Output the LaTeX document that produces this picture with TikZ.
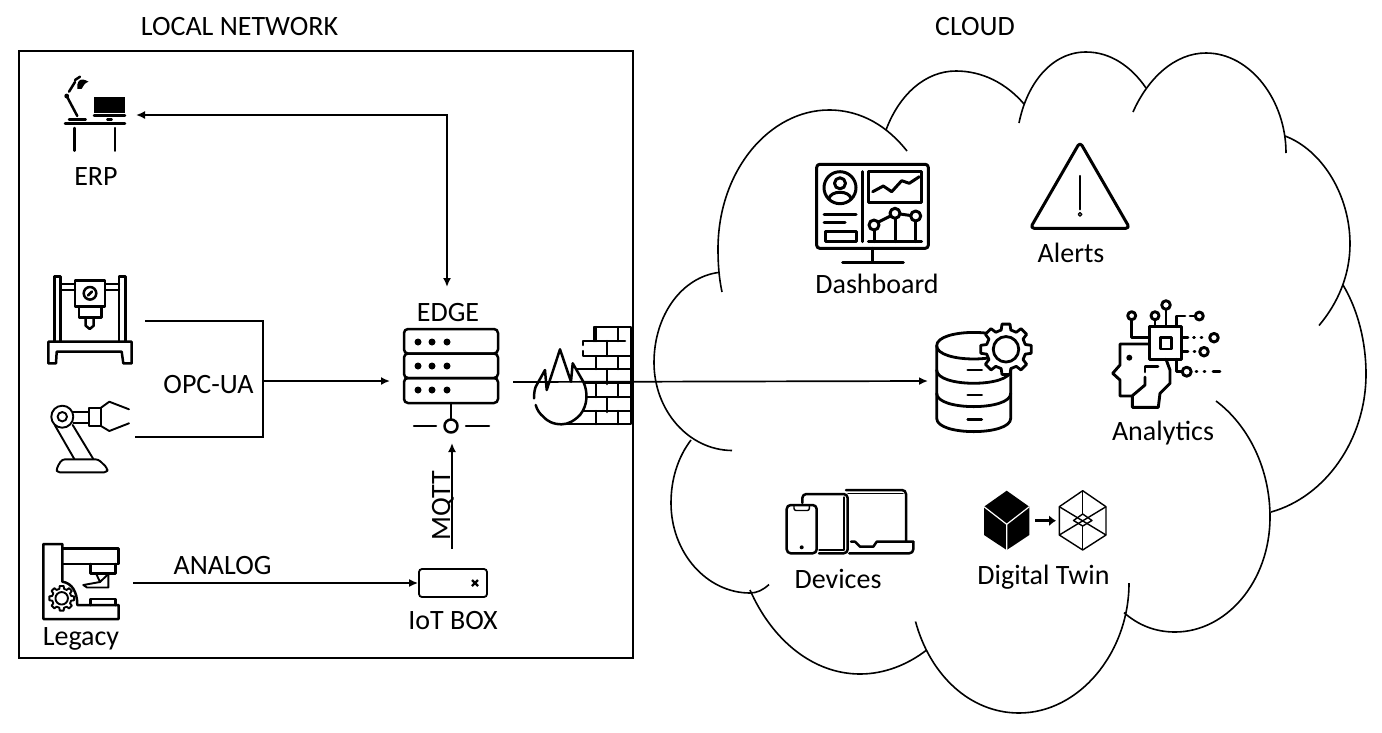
\documentclass[tikz,border=0pt]{standalone}
\usepackage{fontspec}
\setmainfont{Carlito}
\usetikzlibrary{arrows.meta}
\tikzset{
  lbl/.style={anchor=base,inner sep=0pt,outer sep=0pt,font=\fontsize{28}{30}\selectfont},
  boxline/.style={line width=2pt},
  conn/.style={line width=1.7pt,line join=miter},
  arrowconn/.style={conn,-{Latex[length=9pt,width=8pt]}},
  bothconn/.style={conn,{Latex[length=9pt,width=8pt]}-{Latex[length=9pt,width=8pt]}},
  cloudline/.style={line width=1.6pt},
  iconline/.style={line width=2.5pt,line join=round,line cap=round},
  thinicon/.style={line width=1.9pt,line join=round,line cap=round},
  iotbox/.style={draw,line width=1.8pt,rounded corners=3pt,inner sep=0pt,minimum width=68pt,minimum height=28pt},
  gearicon/.pic={
    \path[pic actions,fill=white] (-14:0.78) \foreach \a in {0,45,...,315}{
      -- (\a-14:0.78) -- (\a-9:1) -- (\a+9:1) -- (\a+14:0.78)} -- cycle;
    \path[pic actions,fill=white] (0,0) circle[radius=0.5];
  }
}
\begin{document}
\begin{tikzpicture}[x=1pt,y=-1pt]
\path[use as bounding box,fill=white] (0,0) rectangle (1382,732);
\draw[boxline] (19,51) rectangle (633,658);
\node[lbl] (localtitle) at (239.5,35) {LOCAL NETWORK};
\node[lbl] (cloudtitle) at (975,35) {CLOUD};

\begin{scope}[cloudline]
\draw (722,292) .. controls (719,278) and (718,264) .. (718,249) .. controls (718,170) and (770,110) .. (829,110) .. controls (862,110) and (888,127) .. (907,151);
\draw (886,130) .. controls (899,95) and (925,71) .. (956,71) .. controls (982,71) and (1006,83) .. (1024,104);
\draw (1019,123) .. controls (1027,83) and (1052,52) .. (1086,52) .. controls (1110,52) and (1131,66) .. (1146,88);
\draw (1133,112) .. controls (1148,78) and (1175,53) .. (1206,53) .. controls (1250,53) and (1286,100) .. (1286,153);
\draw (1285,136) .. controls (1322,150) and (1350,195) .. (1350,244) .. controls (1350,275) and (1338,303) .. (1319,325.5);
\draw (1343,285) .. controls (1358,310) and (1366,342) .. (1366,374) .. controls (1366,440) and (1325,497) .. (1271,512);
\draw (1216,401) .. controls (1248,425) and (1270,468) .. (1270,517) .. controls (1270,582) and (1226,632) .. (1175,632) .. controls (1155,632) and (1138,625) .. (1124,612.6);
\draw (1129,583) .. controls (1129,653) and (1079,713) .. (1019,713) .. controls (970,713) and (930,675) .. (915.5,621.5);
\draw (926,650.5) .. controls (907,665) and (884,674) .. (860,674) .. controls (813,674) and (772,640) .. (750,590);
\draw (769,584.5) .. controls (763,590) and (757,593) .. (750,593) .. controls (707,593) and (671,553) .. (671,503) .. controls (671,479) and (678,457) .. (691,440);
\draw (732,450.5) .. controls (688,450) and (654,410) .. (654,362.6) .. controls (654,315) and (682,277) .. (719,272.4);
\end{scope}

\begin{scope}[iconline]
\draw (65,123.3) -- (125,123.3);
\draw (74.3,128) -- (74.3,150.7);
\draw (115,128) -- (115,150.7);
\draw (69,119.3) -- (85.7,119.3);
\draw (66.7,96) -- (77.3,116);
\draw (69,91.7) -- (75,82);
\draw (75,80) -- (80,76.7);
\fill (66.7,96) circle[radius=2.4];
\fill (77.3,88.8) .. controls (76.5,83) and (79,79) .. (83,79.5) .. controls (85,80) and (87,80.5) .. (88.5,81.7) .. controls (85,83) and (83,85.5) .. (81.7,88.8) -- cycle;
\fill (94,97.3) rectangle (125,112.7);
\draw (94,115.3) -- (125,115.3);
\draw (107.3,119.3) -- (111.7,119.3);
\end{scope}
\node[lbl] (erp) at (96,185) {ERP};

\begin{scope}[iconline]
\draw (54.3,341.7) -- (54.3,276.7) -- (60.7,276.7) -- (60.7,341.7);
\draw (119,341.7) -- (119,276.7) -- (125.7,276.7) -- (125.7,341.7);
\draw (60.7,284) -- (75,284) (60.7,290) -- (75,290);
\draw (105,284) -- (119,284) (105,290) -- (119,290);
\draw (75,280.7) rectangle (105,306.7);
\draw (90,293.3) circle[radius=6.3];
\draw (88,295.5) -- (92,291.5);
\draw (79,306.7) rectangle (101.7,317.3);
\draw (85.7,317.3) -- (85.7,325.7) -- (89.7,329) -- (93.7,325.7) -- (93.7,317.3);
\draw (48.3,363.3) -- (48.3,341.7) -- (131.7,341.7) -- (131.7,363.3) -- (123.3,363.3) -- (121.7,351.7) -- (56.7,351.7) -- (56,363.3) -- cycle;
\end{scope}

\begin{scope}[thinicon]
\draw (62.3,416.7) circle[radius=11];
\draw (62.3,416.7) circle[radius=4.7];
\draw (73.3,411.7) -- (89,411.7) (73.3,423.3) -- (89,423.3);
\draw (89,407.7) rectangle (101,426);
\draw (101,407.7) -- (109.3,401.7) -- (129,409.3);
\draw (101,426) -- (109.3,431) -- (129,423.3);
\draw (55,425.5) -- (74.3,459);
\draw (72.7,425) -- (93.3,459);
\draw[rounded corners=3pt] (56.7,472.3) -- (56.7,468) -- (62,459.3) -- (98.3,459.3) -- (107.3,468) -- (107.3,472.3) -- cycle;
\end{scope}

\begin{scope}[iconline]
\draw (62.3,581.7) -- (62.3,544) -- (43.3,544) -- (43.3,619) -- (118.7,619) -- (118.7,605) -- (77.3,605) .. controls (77.3,592) and (72,583) .. (62.3,581.7);
\draw (62.3,548.3) -- (118.7,548.3) -- (118.7,564) -- (62.3,564);
\draw (90.7,564) -- (90.7,573.3) -- (115.7,573.3) -- (115.7,564);
\draw[thinicon] (96,573.3) -- (100,582) -- (108.3,574);
\draw[thinicon] (108.3,573.3) -- (108.3,587.5) -- (87,587.5) -- (83.3,585) -- (100,582);
\draw (90.7,605) -- (90.7,599) -- (115.7,599) -- (115.7,605);
\pic[thinicon,draw,scale=12.5] at (61.7,598.3) {gearicon};
\end{scope}
\node[lbl] (legacy) at (81,645) {Legacy};

\begin{scope}[iconline]
\draw[rounded corners=4pt] (404,329) rectangle (498,353.5);
\draw[rounded corners=4pt] (404,353.5) rectangle (498,378);
\draw[rounded corners=4pt] (404,378) rectangle (498,403);
\foreach \rowy in {342,366,390}
  \foreach \dotx in {418,432,447}
    \fill (\dotx,\rowy) circle[radius=3.5];
\draw (451,403) -- (451,419);
\draw (451,426) circle[radius=6.5];
\draw (414,426) -- (436,426);
\draw (466,426) -- (489,426);
\end{scope}
\node[lbl] (edge) at (448,321) {EDGE};

\begin{scope}[iconline]
\draw (594,341) -- (594,327) -- (631,327) -- (631,424) -- (561.7,424);
\draw (583,345) -- (583,341) -- (625,341);
\draw (583,351) -- (583,356) -- (631,356);
\draw (575,369) -- (631,369);
\draw (575,383) -- (631,383);
\draw (575,397) -- (631,397);
\draw (575,411) -- (631,411);
\foreach \brickx in {596,618} {
  \draw (\brickx,327) -- (\brickx,341);
  \draw (\brickx,356) -- (\brickx,369);
  \draw (\brickx,383) -- (\brickx,397);
  \draw (\brickx,411) -- (\brickx,424);
}
\foreach \bricky in {341,369,397}
  \draw (607,\bricky) -- (607,\bricky+15);
\fill[white] (535.7,386.7) -- (545,370) -- (546.7,390) -- (560,349.3) -- (571,381.7) -- (572.7,363.3) -- (583.3,381.7) .. controls (588,392) and (588,405) .. (580,415) .. controls (574,421) and (568,424.3) .. (561.7,424.3) .. controls (553,424.3) and (547,421) .. (543.3,416.7) -- (535.7,405) -- (534,398) -- cycle;
\draw (534,398.3) .. controls (534,394) and (534.5,390) .. (535.7,386.7) -- (545,370) -- (546.7,390) -- (560,349.3) -- (571,381.7) -- (572.7,363.3) -- (583.3,381.7) .. controls (588,392) and (588,405) .. (580,415) .. controls (574,421) and (568,424.3) .. (561.7,424.3) .. controls (553,424.3) and (547,421) .. (543.3,416.7) .. controls (540,414) and (537,410) .. (535.7,405);
\end{scope}

\node[iotbox] (iot) at (453,583) {};
\draw[line width=2.2pt] (472,580) -- (478,586) (478,580) -- (472,586);
\node[lbl] (iotlabel) at (453,629) {IoT BOX};
\node[lbl] (analog) at (222.5,574) {ANALOG};
\node[lbl] (opcua) at (208.5,393) {OPC-UA};
\node[lbl,rotate=90] (mqtt) at (450,506) {MQTT};

\coordinate (erpport) at (136,115);
\coordinate (edgetop) at (447,287);
\coordinate (printerport) at (145,321);
\coordinate (robotport) at (135,437);
\coordinate (legacyport) at (133,583);
\coordinate (opcjoin) at (263,381);
\coordinate (edgein) at (390,381);
\coordinate (edgeout) at (513,382);
\coordinate (edgebottom) at (452,443);
\coordinate (mqttstart) at (452,549);
\coordinate (dbport) at (928,381);

\draw[bothconn] (erpport) -| (edgetop);
\draw[conn] (printerport) -| (opcjoin) |- (robotport);
\draw[arrowconn] (opcjoin) -- (edgein);
\draw[arrowconn] (legacyport) -- (iot.west);
\draw[arrowconn] (mqttstart) -- (edgebottom);
\draw[arrowconn] (edgeout) -- (dbport);

\begin{scope}[iconline,line width=3pt]
\draw[rounded corners=3pt] (816.7,164.3) rectangle (928.3,248.3);
\draw (872.7,248.3) -- (872.7,262.3);
\draw (842.7,262.3) -- (903.3,262.3);
\draw (862.3,171.7) -- (862.3,241.7);
\draw (840,187.7) circle[radius=16];
\draw (840,183.3) circle[radius=5.5];
\draw (829,199) .. controls (830,190) and (850,190) .. (851,199);
\draw (824,214) -- (856,214);
\draw (824,222.7) -- (845,222.7);
\draw (825,231.7) rectangle (856,241.7);
\draw (868.3,171.7) rectangle (921.7,202.3);
\draw (872.7,191.7) -- (883.3,186) -- (891.7,191.7) -- (901.7,180.7) -- (909.3,183.3) -- (919.3,176.7);
\draw (868.3,241.7) -- (921.7,241.7);
\draw (874,230) -- (874,241.7);
\draw (895,218.5) -- (895,241.7);
\draw (915.7,221) -- (915.7,241.7);
\draw (878.5,222) -- (890.5,216);
\draw (900,214) -- (910.5,215.5);
\draw (874,225) circle[radius=5];
\draw (895,213.3) circle[radius=5];
\draw (915.7,216) circle[radius=5];
\end{scope}
\node[lbl] (dashboard) at (877,293.7) {Dashboard};

\begin{scope}[iconline]
\draw[rounded corners=4pt,line width=3pt] (1080,142) -- (1129.8,228.3) -- (1030.2,228.3) -- cycle;
\draw (1080,176) -- (1080,209.3);
\draw[line width=1.3pt] (1080,214.3) circle[radius=1.8];
\end{scope}
\node[lbl] (alerts) at (1071,262.7) {Alerts};

\begin{scope}[iconline,line width=2.8pt]
\draw (936.7,345.7) -- (936.7,418.4) .. controls (936.7,436) and (1010.7,436) .. (1010.7,418.4) -- (1010.7,345.7);
\draw (936.7,345.7) .. controls (936.7,328) and (1010.7,328) .. (1010.7,345.7) .. controls (1010.7,363.4) and (936.7,363.4) .. (936.7,345.7) -- cycle;
\draw (936.7,370) .. controls (936.7,387.7) and (1010.7,387.7) .. (1010.7,370);
\draw (936.7,393.4) .. controls (936.7,411) and (1010.7,411) .. (1010.7,393.4);
\draw (967.7,370) -- (981.7,370);
\draw (967.7,395) -- (981.7,395);
\draw (967.7,419.3) -- (981.7,419.3);
\pic[iconline,line width=2.8pt,draw,scale=25.5] at (1006,349.3) {gearicon};
\end{scope}

\begin{scope}[iconline,line width=2.9pt]
\draw (1149.3,326.7) rectangle (1181.7,359.3);
\draw (1160.7,337.7) rectangle (1171.7,349);
\draw (1131.7,320) -- (1131.7,337.7) -- (1149.3,337.7);
\draw (1131.7,315.7) circle[radius=4];
\draw (1155,320) -- (1155,326.7);
\draw (1155,315.7) circle[radius=4];
\draw (1166,309.5) -- (1166,326.7);
\draw (1166,305) circle[radius=4.3];
\draw (1176.7,326.7) -- (1176.7,316) -- (1185,316);
\draw (1190,316) -- (1195,316);
\draw (1199.3,316) circle[radius=4];
\draw (1181.7,337.7) -- (1188,337.7);
\draw (1193.5,337.7) -- (1194.5,337.7);
\draw (1201,337.7) -- (1202,337.7);
\draw (1214,337.7) circle[radius=4.3];
\draw (1181.7,351.7) -- (1188,351.7);
\draw (1194,351.7) -- (1195,351.7);
\draw (1204,351.7) circle[radius=4.3];
\draw (1176.7,359.3) -- (1176.7,371.7) -- (1182,371.7);
\draw (1186.7,371.7) circle[radius=4.5];
\draw (1196,371.7) -- (1197,371.7);
\draw (1204,371.7) -- (1205,371.7);
\draw (1213,371.7) -- (1220,371.7);
\draw (1149.3,344) -- (1120,344) -- (1120,365) -- (1112.7,373.3) -- (1120,380) -- (1120,396) -- (1132,396) -- (1145,385) -- (1145,377);
\draw (1145,372) -- (1145,366.7) -- (1158,366.7);
\fill (1129.3,357.7) circle[radius=3];
\draw (1132.3,396) -- (1132.3,407.3) -- (1158.3,407.3) -- (1160,393.3) -- (1170,383.3) -- (1170,370) -- (1166,359.3);
\end{scope}
\node[lbl] (analytics) at (1163,440) {Analytics};

\begin{scope}[iconline]
\draw[rounded corners=4pt] (786.7,505) rectangle (816.7,553.3);
\draw[rounded corners=2pt,line width=1.4pt] (794,506) -- (794,510.5) -- (809.3,510.5) -- (809.3,506);
\fill (801.7,547.3) circle[radius=2];
\draw[rounded corners=4pt] (802.3,503) -- (802.3,494) -- (847.7,494) -- (847.7,553.3) -- (819,553.3);
\draw[line width=1.2pt] (819,550) -- (844,550) -- (844,497);
\draw[rounded corners=4pt] (846,490) -- (906,490) -- (906,541.7);
\draw[line width=1.2pt] (848,493.5) -- (903,493.5);
\draw (851,541.7) -- (855,541.7) -- (860,546.7) -- (873.3,546.7) -- (876.7,541.7) -- (913.3,541.7);
\draw[rounded corners=4pt] (913.3,541.7) -- (913.3,553.3) -- (849.3,553.3);
\end{scope}
\node[lbl] (devices) at (838,588) {Devices};

\fill (1006.7,490.7) -- (1029.3,506.7) -- (1029.3,535) -- (1006.7,550) -- (984,535) -- (984,506.7) -- cycle;
\draw[white,line width=1.2pt] (984,506.7) -- (1006.7,524.3) -- (1029.3,506.7) (1006.7,524.3) -- (1006.7,550);
\draw[line width=3.5pt,-{Latex[length=7pt,width=11pt]}] (1035,520.7) -- (1056,520.7);
\begin{scope}[line width=1.4pt,line join=round]
\draw (1082.7,490.7) -- (1106,506.7) -- (1106,535) -- (1082.7,550) -- (1059.3,535) -- (1059.3,506.7) -- cycle;
\draw (1059.3,506.7) -- (1106,535) (1106,506.7) -- (1059.3,535);
\draw (1082.7,490.7) -- (1082.7,514) (1082.7,526) -- (1082.7,550);
\draw (1082.7,514) -- (1092,520.5) -- (1082.7,526) -- (1073.5,520.5) -- cycle;
\end{scope}
\node[lbl] (twin) at (1043.5,584.3) {Digital Twin};
\end{tikzpicture}
\end{document}
